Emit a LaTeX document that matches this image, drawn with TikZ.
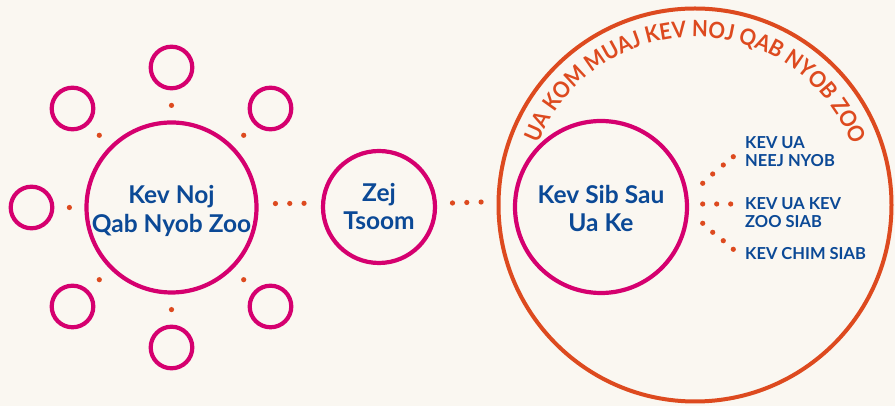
\documentclass[tikz,border=0pt]{standalone}
\usepackage{fontspec}
\setmainfont{Lato}
\newfontfamily\arcfont{Lato}[FakeStretch=0.915]
\usetikzlibrary{calc,decorations.text,decorations.markings}
\definecolor{bgc}{HTML}{FAF7F1}
\definecolor{magc}{HTML}{D5006F}
\definecolor{orc}{HTML}{DD4A1F}
\definecolor{bluec}{HTML}{0B4996}
\tikzset{
  ring/.style={circle, draw=magc, line width=4.2pt, inner sep=0pt, minimum size=#1},
  bigorange/.style={circle, draw=orc, line width=4pt, inner sep=0pt, minimum size=#1},
  maintext/.style={text=bluec, font=\bfseries\fontsize{24.5}{28.3}\selectfont, align=center, inner sep=0pt},
  labeltext/.style={text=bluec, font=\bfseries\fontsize{16.5}{18.5}\selectfont, align=left, anchor=base west, inner sep=0pt},
  onedot/.style={decoration={markings, mark=at position 0.5 with {\fill[orc] (0,0) circle (2.6pt);}}, postaction=decorate},
  threedots/.style={decoration={markings, mark=at position 0.5 with {\fill[orc] (-14.3pt,0) circle (2.6pt) (0,0) circle (2.6pt) (14.3pt,0) circle (2.6pt);}}, postaction=decorate},
  dotc/.style={fill=orc},
}
\begin{document}
\begin{tikzpicture}[x=1pt,y=1pt]
\fill[bgc] (0,0) rectangle (895,406);
\useasboundingbox (0,0) rectangle (895,406);

% left cluster
\node[ring=170pt] (c1) at (171.5,198.5) {};
\foreach \a/\n in {45/s0,90/s1,135/s2,180/s3,225/s4,270/s5,315/s6}{
  \node[ring=41.6pt] (\n) at ($(171.5,198.5)+(\a:140)$) {};
}
\node[maintext, yshift=-3.5pt] (t1) at (c1) {Kev Noj\\Qab Nyob Zoo};

% middle
\node[ring=112pt] (zej) at (379,199) {};
\node[maintext, yshift=0.5pt] (t2) at (zej) {Zej\\Tsoom};

% right
\node[bigorange=393pt] (big) at (695,201) {};
\node[ring=172pt] (in2) at (601,199) {};
\node[maintext, yshift=-1.3pt] (t3) at (in2) {Kev Sib Sau\\Ua Ke};

\path[decorate, decoration={text along path, text align=center, text color=orc,
  text={|\arcfont\bfseries\fontsize{22.5}{23}\selectfont|UA KOM MUAJ KEV NOJ QAB NYOB ZOO}}]
  (695,201) ++(175:168) arc[start angle=175, end angle=4.5, radius=168];

\node[labeltext] (l1) at (745,239.3) {KEV UA\\NEEJ NYOB};
\node[labeltext] (l2) at (745,178.3) {KEV UA KEV\\ZOO SIAB};
\node[labeltext] (l3) at (745,146.7) {KEV CHIM SIAB};

% connectors
\foreach \n in {s0,s1,s2,s3,s4,s5,s6}{ \path[onedot] (c1) -- (\n); }
\path[threedots] ([yshift=3.8pt]c1.east) -- ([yshift=3.8pt]zej.west);
\path[threedots] ([yshift=3.5pt]zej.east) -- ([yshift=3.5pt]big.west);
\foreach \p in {(702.7,222.7),(712.7,232),(723.3,241),(733.3,249.3),
                (702.7,202),(716.7,202),(730.7,202),
                (702.7,182.7),(712.7,173.7),(723.3,165.3),(733.3,156.7)}{
  \fill[dotc] \p circle (2.6pt);
}
\end{tikzpicture}
\end{document}
